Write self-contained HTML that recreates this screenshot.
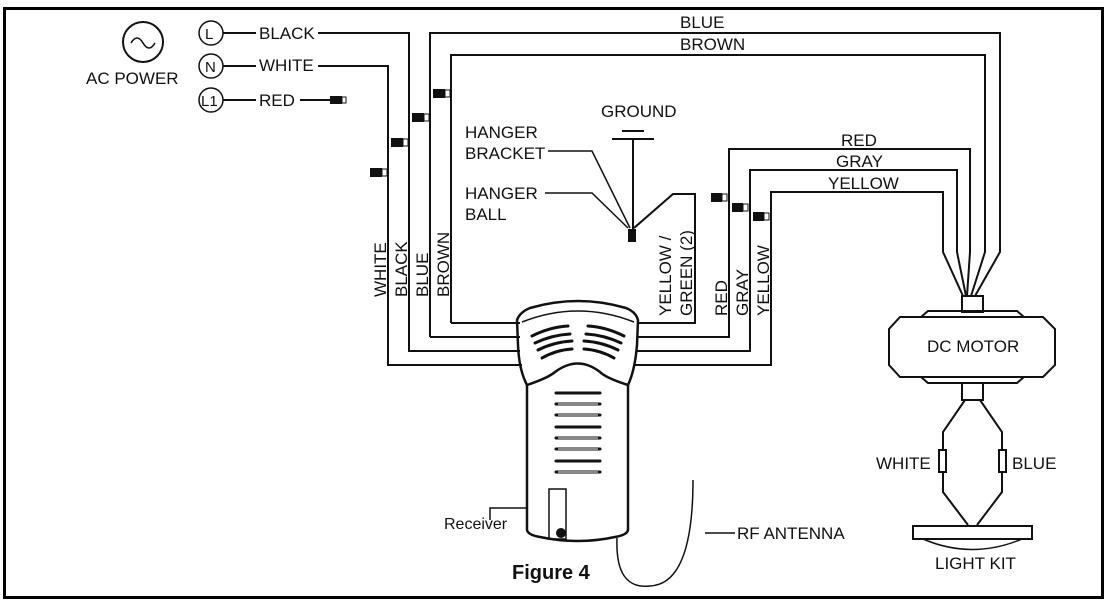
<!DOCTYPE html>
<html><head><meta charset="utf-8"><style>
html,body{margin:0;padding:0;background:#fff}
svg{display:block}
text{font-family:"Liberation Sans",Arial,sans-serif;fill:#111}
</style></head><body>
<svg width="1108" height="604" viewBox="0 0 1108 604" xmlns="http://www.w3.org/2000/svg">
<rect x="4.5" y="8.5" width="1098" height="589" fill="none" stroke="#000" stroke-width="3"/>
<g fill="none" stroke="#111" stroke-width="2">
<circle cx="143" cy="42" r="20"/>
<path d="M131 43 q6 -10 12 0 t12 0" stroke-width="1.6"/>
<circle cx="211" cy="33" r="12" stroke-width="1.5"/>
<circle cx="211" cy="66" r="12" stroke-width="1.5"/>
<circle cx="211" cy="100" r="12" stroke-width="1.5"/>
<path d="M223 33 H256 M318 33 H409 V351 H520"/>
<path d="M223 66 H256 M318 66 H388 V365 H522"/>
<path d="M223 100 H256 M300 100 H330"/>
<path d="M430 337 V33 H1000 V252 L975 296"/>
<path d="M451 323 V55 H985 V252 L971 296"/>
<path d="M520 337 H430 M520 323 H451"/>
<path d="M637 337 H729 V149 H970 V252 L967 296"/>
<path d="M637 351 H750 V170 H957 V252 L966 296"/>
<path d="M634 365 H771 V192 H943 V252 L963 296"/>
<path d="M637 323 H695 V194 H673 L634 228"/>
<path d="M633 139 V230 M612 139 H654 M622 131 H644"/>
<path d="M548 151 H592 L630 228 M545 193 H592 L628 228" stroke-width="1.5"/>
<rect x="628" y="229" width="8" height="13" fill="#111" stroke="none"/>
<rect x="962" y="296" width="21" height="16"/>
<path d="M921 317 L928 311 H1017 L1024 317"/>
<path d="M921 377 L928 383 H1017 L1024 377"/>
<path d="M900 317 H1043 L1055 329 V365 L1043 377 H900 L889 365 V329 Z"/>
<rect x="962" y="383" width="21" height="17"/>
<path d="M965 400 L943 432 V492 L968 525 M980 400 L1002 432 V492 L977 525"/>
<rect x="939" y="450" width="7" height="22" fill="#fff"/>
<rect x="999" y="450" width="7" height="22" fill="#fff"/>
<rect x="913" y="526" width="119" height="13"/>
<path d="M923 539 Q972 560 1022 539" stroke-width="1.5"/>
<path d="M517 320 Q520 312 530 308 Q578 294 626 308 Q636 312 638 320 L637 345 Q635 370 628 385 Q606 378 600 372 Q578 355 555 372 Q548 378 527 385 Q519 370 518 345 Z" stroke-width="2.5"/>
<path d="M522 322 Q578 300 634 322" stroke-width="1.5"/>
<path d="M527 385 V530 Q528 535 540 537 Q578 545 615 537 Q627 535 628 530 V385" stroke-width="2.5"/>
<rect x="549" y="489" width="17" height="50" stroke-width="1.5"/>
<circle cx="561" cy="533" r="4" fill="#111"/>
<path d="M617 538 Q615 590 650 586 Q693 584 693 480" stroke-width="1.5"/>
<path d="M490 520 V508 H527 M705 533 H735" stroke-width="1.5"/>
</g>
<g stroke="#111" stroke-width="3" stroke-linecap="round" fill="none">
<path d="M532 336 Q550 327 568 326 M535 343 Q552 335 570 334 M538 350 Q554 342 572 341 M542 358 Q556 350 572 349"/>
<path d="M588 326 Q606 327 624 336 M586 334 Q604 335 621 343 M584 341 Q602 342 618 350 M584 349 Q600 350 614 358"/>
<path d="M556 393 H600 M556 404 H600 M556 415 H600 M556 427 H600 M556 438 H600 M556 449 H600 M556 461 H600 M556 472 H600"/>
</g>
<g stroke="#fff" stroke-width="1" fill="none">
<path d="M558 404 H598 M558 415 H598 M558 438 H598 M558 449 H598 M558 472 H598"/>
</g>
<g fill="#111">
<rect x="330" y="96" width="12" height="8"/><rect x="342" y="97" width="4" height="6" fill="#fff" stroke="#111"/>
<rect x="370" y="168" width="12" height="9"/><rect x="382" y="169" width="5" height="7" fill="#fff" stroke="#111"/>
<rect x="391" y="138" width="12" height="9"/><rect x="403" y="139" width="5" height="7" fill="#fff" stroke="#111"/>
<rect x="412" y="113" width="12" height="9"/><rect x="424" y="114" width="5" height="7" fill="#fff" stroke="#111"/>
<rect x="433" y="89" width="12" height="9"/><rect x="445" y="90" width="5" height="7" fill="#fff" stroke="#111"/>
<rect x="711" y="193" width="11" height="9"/><rect x="722" y="194" width="5" height="7" fill="#fff" stroke="#111"/>
<rect x="732" y="203" width="11" height="9"/><rect x="743" y="204" width="5" height="7" fill="#fff" stroke="#111"/>
<rect x="753" y="212" width="11" height="9"/><rect x="764" y="213" width="5" height="7" fill="#fff" stroke="#111"/>
</g>
<g style="font-size:17px">
<text x="86" y="84">AC POWER</text>
<text x="259" y="39">BLACK</text>
<text x="259" y="71">WHITE</text>
<text x="259" y="106">RED</text>
<text x="680" y="28">BLUE</text>
<text x="680" y="50">BROWN</text>
<text x="841" y="146">RED</text>
<text x="836" y="167">GRAY</text>
<text x="828" y="189">YELLOW</text>
<text x="601" y="117">GROUND</text>
<text x="465" y="138">HANGER</text>
<text x="465" y="159">BRACKET</text>
<text x="465" y="199">HANGER</text>
<text x="465" y="220">BALL</text>
<text transform="translate(386,297) rotate(-90)">WHITE</text>
<text transform="translate(407,297) rotate(-90)">BLACK</text>
<text transform="translate(428,297) rotate(-90)">BLUE</text>
<text transform="translate(449,297) rotate(-90)">BROWN</text>
<text transform="translate(671,316) rotate(-90)">YELLOW /</text>
<text transform="translate(692,316) rotate(-90)">GREEN (2)</text>
<text transform="translate(727,316) rotate(-90)">RED</text>
<text transform="translate(748,316) rotate(-90)">GRAY</text>
<text transform="translate(769,316) rotate(-90)">YELLOW</text>
<text x="927" y="352">DC MOTOR</text>
<text x="876" y="469">WHITE</text>
<text x="1012" y="469">BLUE</text>
<text x="935" y="569">LIGHT KIT</text>
<text x="737" y="539">RF ANTENNA</text>
</g>
<text x="205" y="39" style="font-size:15px">L</text>
<text x="205" y="72" style="font-size:15px">N</text>
<text x="201" y="106" style="font-size:15px">L1</text>
<text x="444" y="529" style="font-size:16px">Receiver</text>
<text x="512" y="579" style="font-size:20px;font-weight:bold">Figure 4</text>
</svg>
</body></html>
